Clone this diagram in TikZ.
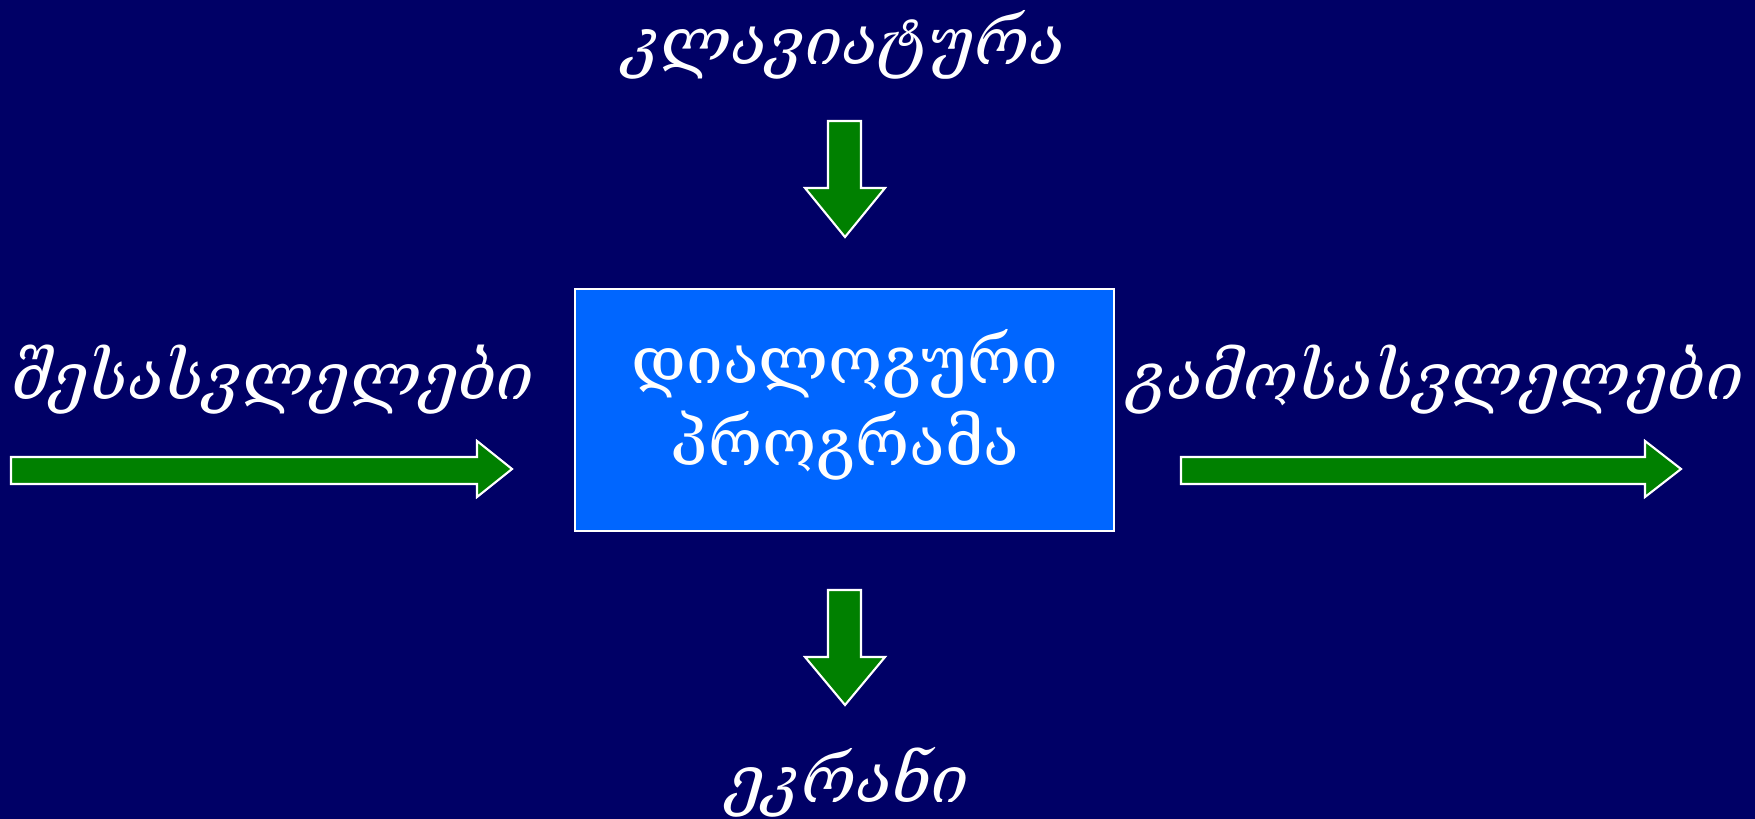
\documentclass[tikz,border=0pt]{standalone}
\usepackage{fontspec}
\newfontfamily\geo{DejaVu Serif}
\definecolor{bg}{HTML}{000066}
\definecolor{boxblue}{HTML}{0066FF}
\definecolor{arrgreen}{HTML}{008000}
\begin{document}
\begin{tikzpicture}[x=0.01cm,y=-0.01cm,
  lbl/.style={text=white,inner sep=0pt,font=\geo\itshape\fontsize{18.7}{22}\selectfont},
  blk/.style={fill=arrgreen,draw=white,line width=0.6pt,line join=miter}]
\fill[bg] (0,0) rectangle (1755,819);
\useasboundingbox (0,0) rectangle (1755,819);
% central box
\draw[fill=boxblue,draw=white,line width=0.7pt] (575,289) rectangle (1114,531);
\node[text=white,align=center,inner sep=0pt,font=\geo\fontsize{18.7}{23.5}\selectfont] (prog) at (845,405) {დიალოგური\\პროგრამა};
% labels
\node[lbl] (kb) at (845,45) {კლავიატურა};
\node[lbl] (in) at (273,380) {შესასვლელები};
\node[lbl] (out) at (1436,380) {გამოსასვლელები};
\node[lbl] (scr) at (848,782) {ეკრანი};
% top arrow
\draw[blk] (828,121) -- (861,121) -- (861,188) -- (885,188) -- (845,237) -- (805,188) -- (828,188) -- cycle;
% bottom arrow
\draw[blk] (828,590) -- (861,590) -- (861,657) -- (885,657) -- (845,705) -- (805,657) -- (828,657) -- cycle;
% left arrow
\draw[blk] (11,457) -- (477,457) -- (477,441) -- (512,469) -- (477,497) -- (477,484) -- (11,484) -- cycle;
% right arrow
\draw[blk] (1181,457) -- (1645,457) -- (1645,441) -- (1681,469) -- (1645,497) -- (1645,484) -- (1181,484) -- cycle;
\end{tikzpicture}
\end{document}
